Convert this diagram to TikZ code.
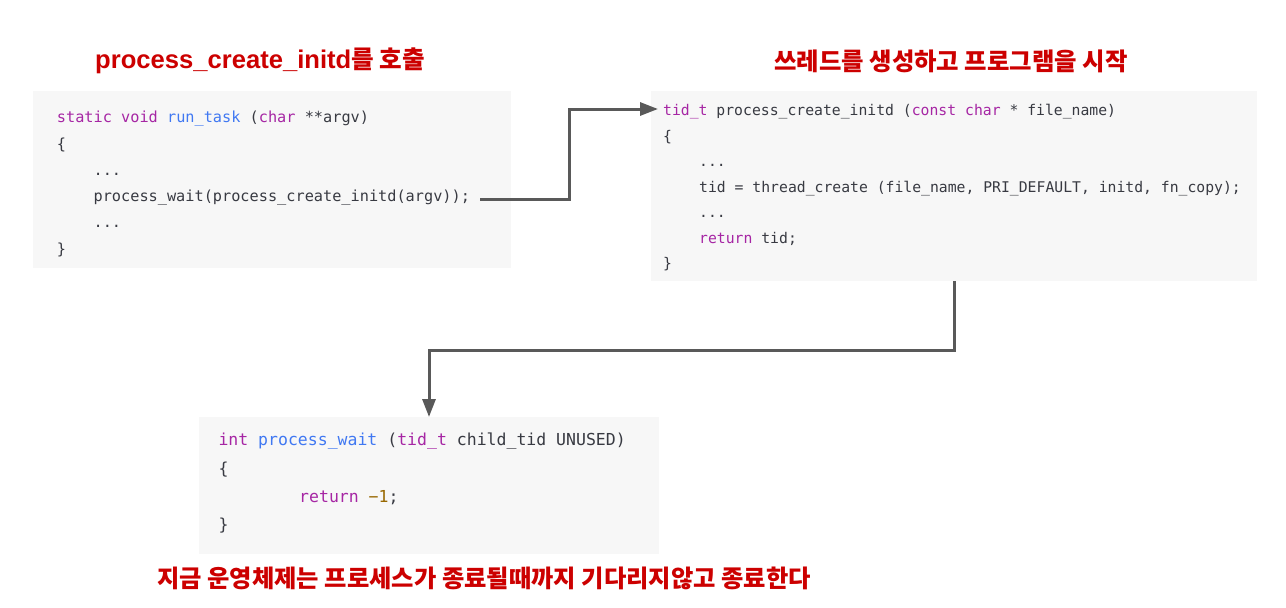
\documentclass[tikz,border=0pt]{standalone}
\usepackage{fontspec}
\setmainfont{Liberation Sans}
\newfontfamily\mono{DejaVu Sans Mono}
\newfontfamily\kr{Noto Sans CJK KR}
\usetikzlibrary{arrows.meta}
\definecolor{boxbg}{HTML}{F7F7F7}
\definecolor{kwc}{HTML}{A626A4}
\definecolor{fnc}{HTML}{4078F2}
\definecolor{numc}{HTML}{986801}
\definecolor{txtc}{HTML}{383A42}
\definecolor{ttlc}{HTML}{CC0000}
\definecolor{arrc}{HTML}{595959}
\newcommand\kwd[1]{\textcolor{kwc}{#1}}
\newcommand\fnm[1]{\textcolor{fnc}{#1}}
\newcommand\nmb[1]{\textcolor{numc}{#1}}
\begin{document}
\begin{tikzpicture}[x=1pt,y=-1pt,
  codebox/.style={fill=boxbg, draw=none, anchor=north west, inner sep=0pt},
  codeA/.style={anchor=base west, inner sep=0pt, text=txtc, font=\mono\fontsize{15.25}{18}\selectfont},
  codeB/.style={anchor=base west, inner sep=0pt, text=txtc, font=\mono\fontsize{14.75}{18}\selectfont},
  codeC/.style={anchor=base west, inner sep=0pt, text=txtc, font=\mono\fontsize{16.5}{20}\selectfont},
  title/.style={anchor=base west, inner sep=0pt, text=ttlc},
  conn/.style={draw=arrc, line width=3pt, -{Triangle[length=18pt,width=13pt]}}
]
\useasboundingbox (0,0) rectangle (1286,608);
\fill[white] (0,0) rectangle (1286,608);

% boxes
\node[codebox, minimum width=478pt, minimum height=177pt] (box1) at (33,91) {};
\node[codebox, minimum width=606pt, minimum height=190pt] (box2) at (651,91) {};
\node[codebox, minimum width=460pt, minimum height=137pt] (box3) at (199,417) {};

% box 1 code
\node[codeA] (a1) at (56.7,122.7) {\kwd{static void} \fnm{run\_task} (\kwd{char} **argv)};
\node[codeA] (a2) at (56.7,149.0) {\{};
\node[codeA] (a3) at (93.4,175.3) {...};
\node[codeA] (a4) at (93.4,201.6) {process\_wait(process\_create\_initd(argv));};
\node[codeA] (a5) at (93.4,227.9) {...};
\node[codeA] (a6) at (56.7,254.2) {\}};

% box 2 code
\node[codeB] (b1) at (663,115.5) {\kwd{tid\_t} process\_create\_initd (\kwd{const char} * file\_name)};
\node[codeB] (b2) at (663,141.0) {\{};
\node[codeB] (b3) at (699,166.5) {...};
\node[codeB] (b4) at (699,192.0) {tid = thread\_create (file\_name, PRI\_DEFAULT, initd, fn\_copy);};
\node[codeB] (b5) at (699,217.5) {...};
\node[codeB] (b6) at (699,243.0) {\kwd{return} tid;};
\node[codeB] (b7) at (663,268.5) {\}};

% box 3 code
\node[codeC] (c1) at (218.3,445.7) {\kwd{int} \fnm{process\_wait} (\kwd{tid\_t} child\_tid UNUSED)};
\node[codeC] (c2) at (218.3,474.1) {\{};
\node[codeC] (c3) at (299,502.5) {\kwd{return} \nmb{−1};};
\node[codeC] (c4) at (218.3,530.9) {\}};

% titles
\node[title] (t1) at (95,68.5) {{\fontsize{25.6}{30}\selectfont\bfseries process\_create\_initd}{\kr\bfseries\fontsize{24.6}{28}\selectfont 를 호출}};
\node[title] (t2) at (774,70) {\kr\bfseries\fontsize{24.4}{28}\selectfont 쓰레드를 생성하고 프로그램을 시작};
\node[title] (t3) at (157,587.5) {\kr\bfseries\fontsize{24.3}{28}\selectfont 지금 운영체제는 프로세스가 종료될때까지 기다리지않고 종료한다};

% connectors
\coordinate (s1) at (480,199);
\coordinate (e1) at (658,109);
\draw[conn] (s1) -- (569,199) |- (e1);
\coordinate (s2) at (954,281);
\coordinate (e2) at (429,417);
\draw[conn] (s2) -- (954,350) -| (e2);
\end{tikzpicture}
\end{document}
